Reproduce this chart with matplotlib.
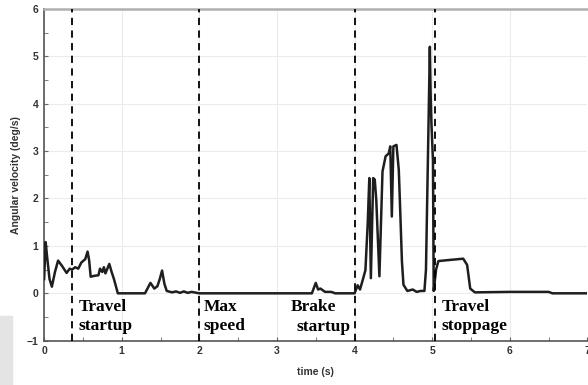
import numpy as np
import matplotlib.pyplot as plt
from matplotlib.patches import Rectangle

# time (s) and angular velocity (deg/s)
t = [0.0, 0.02, 0.04, 0.07, 0.10, 0.14, 0.18, 0.23, 0.29, 0.33, 0.36, 0.40, 0.44,
     0.48, 0.53, 0.56, 0.58, 0.60, 0.65, 0.70, 0.72, 0.75, 0.77, 0.79, 0.81, 0.84,
     0.87, 0.90, 0.95, 1.30, 1.37, 1.42, 1.46, 1.49, 1.52, 1.55, 1.58, 1.65, 1.70,
     1.75, 1.80, 1.85, 1.90, 2.00, 3.45, 3.50, 3.53, 3.56, 3.62, 3.70, 3.75, 4.00,
     4.04, 4.07, 4.10, 4.14, 4.17, 4.19, 4.21, 4.24, 4.26, 4.28, 4.32, 4.36, 4.40,
     4.44, 4.46, 4.48, 4.50, 4.54, 4.57, 4.59, 4.61, 4.63, 4.68, 4.75, 4.80, 4.85,
     4.90, 4.92, 4.95, 4.97, 4.98, 4.99, 5.01, 5.02, 5.05, 5.08, 5.20, 5.40, 5.45,
     5.49, 5.55, 6.00, 6.50, 6.55, 7.00]
v = [0.30, 1.08, 0.75, 0.30, 0.14, 0.45, 0.69, 0.58, 0.43, 0.52, 0.50, 0.55, 0.52,
     0.65, 0.72, 0.88, 0.70, 0.35, 0.37, 0.38, 0.52, 0.45, 0.55, 0.42, 0.50, 0.62,
     0.45, 0.30, 0.0, 0.0, 0.22, 0.10, 0.15, 0.30, 0.48, 0.20, 0.05, 0.02, 0.04,
     0.01, 0.04, 0.01, 0.03, 0.0, 0.0, 0.22, 0.08, 0.10, 0.03, 0.03, 0.0, 0.0,
     0.17, 0.08, 0.25, 0.49, 1.50, 2.43, 0.32, 2.43, 2.40, 1.96, 0.36, 2.57, 2.89,
     2.95, 3.10, 1.62, 3.10, 3.13, 2.60, 1.66, 0.68, 0.18, 0.05, 0.08, 0.03, 0.05,
     0.05, 0.50, 3.30, 5.20, 4.20, 3.60, 2.80, 0.05, 0.50, 0.68, 0.70, 0.73, 0.60,
     0.10, 0.02, 0.03, 0.03, 0.0, 0.0]

markers = [0.36, 2.0, 4.0, 5.04]
phases = [(0.44, 'Travel\nstartup'), (2.05, 'Max\nspeed'), (3.18, 'Brake'),
          (3.25, 'startup'), (5.12, 'Travel\nstoppage')]

fig = plt.figure(figsize=(5.88, 3.85), dpi=100)
fig.patches.append(Rectangle((0, 0), 0.021, 0.18, transform=fig.transFigure,
                             color='#e4e4e4', zorder=0))
ax = fig.add_axes([0.075, 0.115, 0.924, 0.862])

ax.plot(t, v, color='#1e1e1e', lw=1.8, zorder=3)
for m in markers:
    ax.axvline(m, color='black', ls=(0, (4, 3)), lw=1.3, zorder=4)

serif = dict(family='Liberation Serif', weight='bold', fontsize=12.5, va='top',
             linespacing=1.25)
for x, s in phases:
    y = -0.13 if s != 'startup' else -0.55
    ax.text(x, y, s, **serif)

ax.set_xlim(0, 7)
ax.set_ylim(-1, 6)
ax.set_xticks(range(0, 8))
ax.set_yticks(range(-1, 7))
ax.set_xticks(np.arange(0.5, 7, 1), minor=True)
ax.set_yticks(np.arange(-0.5, 6, 1), minor=True)
ax.grid(True, which='major', color='#ececec', lw=0.8)
ax.tick_params(which='both', direction='in', color='#666666', length=3,
               labelsize=7.5, labelcolor='#333333', pad=4)
for lab in ax.get_xticklabels() + ax.get_yticklabels():
    lab.set_fontweight('bold')
    lab.set_family('Liberation Sans')

for side in ['left', 'bottom']:
    ax.spines[side].set_color('#555555')
    ax.spines[side].set_linewidth(1.2)
ax.spines['top'].set_color('#b0b0b0')
ax.spines['top'].set_linewidth(1.8)
ax.spines['right'].set_visible(False)

ax.set_xlabel('time (s)', fontsize=7.5, fontweight='bold', color='#333333',
              family='Liberation Sans', labelpad=8)
ax.set_ylabel('Angular velocity (deg/s)', fontsize=7.5, fontweight='bold',
              color='#333333', family='Liberation Sans', labelpad=4)

plt.savefig('out.png', dpi=100)
